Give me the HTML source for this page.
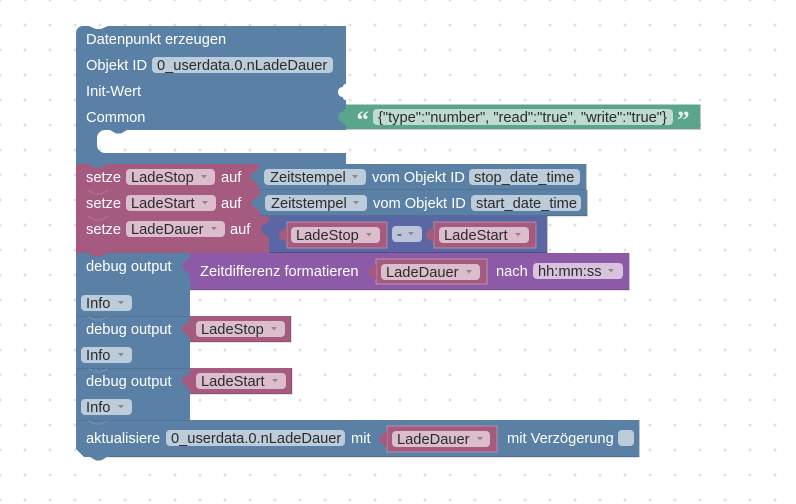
<!DOCTYPE html>
<html><head><meta charset="utf-8"><style>
html,body{margin:0;padding:0;background:#fff;width:796px;height:504px;overflow:hidden}
svg{display:block}
text{font-family:"Liberation Sans",Arial,sans-serif;font-size:14.67px;fill:#fff}
text.d{fill:#2b2b2b}
.a{fill:#777;opacity:.75}
.fb{fill:#bdccdb}.fp{fill:#dbbdcc}.fv{fill:#d8c3de}.fg{fill:#bddbd1}
.B{fill:#5b80a5}.P{fill:#a55b80}.V{fill:#8d5aa8}.G{fill:#5ba58c}.M{fill:#5b67a5}
.e{stroke:#000;stroke-opacity:.22;stroke-width:1;fill:none}
.h{stroke:#fff;stroke-opacity:.16;stroke-width:1;fill:none}
.q{font-family:"Liberation Serif",serif;font-size:25px;font-weight:bold;fill:#e6f2ee}
</style></head><body>
<svg width="796" height="504" viewBox="0 0 796 504" xmlns="http://www.w3.org/2000/svg">
<defs>
<pattern id="g" width="25" height="25" patternUnits="userSpaceOnUse" x="-12.5" y="-12.5">
<path d="M11 12.500h3M12.500 11v3" stroke="#d4d4d4" stroke-width="1" fill="none"/></pattern>
</defs>
<rect width="796" height="504" fill="#fff"/>
<rect width="796" height="504" fill="url(#g)"/>

<!-- hat block -->
<path class="B" d="M76 33a7 7 0 0 1 7-7h6l7 3h5l7-3H346V84c-2 0-3 1-3 3c-3 0-5 2-5 5s2 5 5 5c0 2 1 3 3 3V130H127l-6 3.500h-5l-6-3.500H105a8 8 0 0 0-8 8v7a8 8 0 0 0 8 8H346v11H76z"/>
<text x="86" y="44">Datenpunkt erzeugen</text>
<text x="86" y="70">Objekt ID</text>
<rect class="fb" x="152" y="57" width="181" height="16" rx="4"/>
<text class="d" x="157" y="70">0_userdata.0.nLadeDauer</text>
<text x="86" y="96">Init-Wert</text>
<text x="86" y="122">Common</text>

<!-- string -->
<rect class="G" x="346" y="104.500" width="354" height="24.500"/>
<path class="G" d="M346 109c-2 0-3 1-3 3c-3 0-5 2-5 5s2 5 5 5c0 2 1 3 3 3z"/>
<path class="e" d="M346 129.500H700.500V104.500"/>
<rect class="fg" x="373" y="109" width="300" height="16" rx="4"/>
<text class="d" x="378" y="122">{"type":"number", "read":"true", "write":"true"}</text>
<text class="q" x="356.500" y="128">“</text>
<text class="q" x="677" y="128">”</text>

<!-- setze 1 -->
<rect class="P" x="76" y="164" width="183" height="26"/>
<path class="B" d="M88 164l7 3.500h6l7-3.500z"/>
<rect class="B" x="259" y="164" width="327" height="26"/>
<path class="B" d="M259 169c-2 0-3 1-3 3c-3 0-5 2-5 5s2 5 5 5c0 2 1 3 3 3z"/>
<text x="86" y="182">setze</text>
<rect class="fp" x="126" y="169" width="89" height="16" rx="4"/>
<text class="d" x="131" y="182">LadeStop</text><path class="a" d="M201 175h6l-3 3.500z"/>
<text x="221" y="182">auf</text>
<rect class="fb" x="264" y="169" width="102" height="16" rx="4"/>
<text class="d" x="270" y="182">Zeitstempel</text><path class="a" d="M352 175h6l-3 3.500z"/>
<text x="372" y="182">vom Objekt ID</text>
<rect class="fb" x="469" y="169" width="111" height="16" rx="4"/>
<text class="d" x="474" y="182">stop_date_time</text>
<path class="e" d="M259 190H586.500V164"/>

<!-- setze 2 -->
<rect class="P" x="76" y="190" width="184" height="26"/>
<path class="h" d="M88 190.500l7 3.500h6l7-3.500"/>
<rect class="B" x="260" y="190" width="327" height="26"/>
<path class="B" d="M260 195c-2 0-3 1-3 3c-3 0-5 2-5 5s2 5 5 5c0 2 1 3 3 3z"/>
<text x="86" y="208">setze</text>
<rect class="fp" x="126" y="195" width="90" height="16" rx="4"/>
<text class="d" x="131" y="208">LadeStart</text><path class="a" d="M202 201h6l-3 3.500z"/>
<text x="221" y="208">auf</text>
<rect class="fb" x="265" y="195" width="102" height="16" rx="4"/>
<text class="d" x="271" y="208">Zeitstempel</text><path class="a" d="M353 201h6l-3 3.500z"/>
<text x="373" y="208">vom Objekt ID</text>
<rect class="fb" x="471" y="195" width="110" height="16" rx="4"/>
<text class="d" x="476" y="208">start_date_time</text>
<path class="e" d="M260 216H587.500V190"/>

<!-- setze 3 -->
<rect class="P" x="76" y="216" width="193" height="37"/>
<path class="h" d="M88 216.500l7 3.500h6l7-3.500"/>
<rect class="M" x="269" y="216" width="278" height="37"/>
<path class="M" d="M269 221c-2 0-3 1-3 3c-3 0-5 2-5 5s2 5 5 5c0 2 1 3 3 3z"/>
<text x="86" y="234">setze</text>
<rect class="fp" x="126" y="221" width="99" height="16" rx="4"/>
<text class="d" x="131" y="234">LadeDauer</text><path class="a" d="M211 227h6l-3 3.500z"/>
<text x="230" y="234">auf</text>
<!-- inner LadeStop -->
<rect class="P" x="287" y="222" width="100" height="26" stroke="#c9a0b5" stroke-width=".7"/>
<path class="P" d="M287 227c-2 0-3 1-3 3c-3 0-5 2-5 5s2 5 5 5c0 2 1 3 3 3z"/>
<rect class="fp" x="291" y="227" width="89" height="16" rx="4"/>
<text class="d" x="296" y="240">LadeStop</text><path class="a" d="M366 233h6l-3 3.500z"/>
<rect x="392" y="226" width="30" height="16" rx="4" fill="#bdc2db"/>
<text class="d" x="397" y="239">-</text><path class="a" d="M408 232h6l-3 3.500z"/>
<rect class="P" x="434" y="222" width="102" height="26" stroke="#c9a0b5" stroke-width=".7"/>
<path class="P" d="M434 227c-2 0-3 1-3 3c-3 0-5 2-5 5s2 5 5 5c0 2 1 3 3 3z"/>
<rect class="fp" x="439" y="227" width="90" height="16" rx="4"/>
<text class="d" x="444" y="240">LadeStart</text><path class="a" d="M515 233h6l-3 3.500z"/>
<path class="e" d="M269 252.500H547.500V216"/>

<!-- debug 1 -->
<rect class="B" x="76" y="253" width="114" height="63"/>
<path class="P" d="M88 253l7 3.500h6l7-3.500z"/>
<rect class="V" x="190" y="253" width="439" height="37"/>
<path class="V" d="M190 258c-2 0-3 1-3 3c-3 0-5 2-5 5s2 5 5 5c0 2 1 3 3 3z"/>
<path class="e" d="M190 290H629.500V253"/>
<text x="86" y="271">debug output</text>
<text x="200" y="276">Zeitdifferenz formatieren</text>
<rect class="P" x="376" y="259" width="111" height="25" stroke="#d0a8bc" stroke-width=".7"/>
<path class="P" d="M376 264c-2 0-3 1-3 3c-3 0-5 2-5 5s2 5 5 5c0 2 1 3 3 3z"/>
<rect class="fp" x="381" y="264" width="99" height="16" rx="4"/>
<text class="d" x="386" y="277">LadeDauer</text><path class="a" d="M466 270h6l-3 3.500z"/>
<text x="496" y="276">nach</text>
<rect class="fv" x="533" y="263" width="90" height="16" rx="4"/>
<text class="d" x="538" y="276">hh:mm:ss</text><path class="a" d="M608 269h6l-3 3.500z"/>
<rect class="fb" x="81" y="295" width="51" height="16" rx="4"/>
<text class="d" x="86" y="308">Info</text><path class="a" d="M118 301h6l-3 3.500z"/>

<!-- debug 2 -->
<rect class="B" x="76" y="316" width="114" height="52"/>
<path class="h" d="M88 316.500l7 3.500h6l7-3.500"/>
<path class="e" d="M76 316.500H190" style="stroke-opacity:.1"/>
<rect class="P" x="190" y="316" width="101" height="26"/>
<path class="P" d="M190 321c-2 0-3 1-3 3c-3 0-5 2-5 5s2 5 5 5c0 2 1 3 3 3z"/>
<path class="e" d="M190 342H291V316"/>
<text x="86" y="334">debug output</text>
<rect class="fp" x="196" y="321" width="89" height="16" rx="4"/>
<text class="d" x="201" y="334">LadeStop</text><path class="a" d="M271 327h6l-3 3.500z"/>
<rect class="fb" x="81" y="347" width="51" height="16" rx="4"/>
<text class="d" x="86" y="360">Info</text><path class="a" d="M118 353h6l-3 3.500z"/>

<!-- debug 3 -->
<rect class="B" x="76" y="368" width="114" height="52"/>
<path class="h" d="M88 368.500l7 3.500h6l7-3.500"/>
<path class="e" d="M76 368.500H190" style="stroke-opacity:.1"/>
<rect class="P" x="190" y="368" width="102" height="26"/>
<path class="P" d="M190 373c-2 0-3 1-3 3c-3 0-5 2-5 5s2 5 5 5c0 2 1 3 3 3z"/>
<path class="e" d="M190 394H292V368"/>
<text x="86" y="386">debug output</text>
<rect class="fp" x="196" y="373" width="90" height="16" rx="4"/>
<text class="d" x="201" y="386">LadeStart</text><path class="a" d="M272 379h6l-3 3.500z"/>
<rect class="fb" x="81" y="399" width="51" height="16" rx="4"/>
<text class="d" x="86" y="412">Info</text><path class="a" d="M118 405h6l-3 3.500z"/>

<!-- aktualisiere -->
<path class="B" d="M76 420H639V457H107l-6 3.500h-5l-6-3.500H84l-8-8z"/>
<path class="h" d="M88 420.500l7 3.500h6l7-3.500"/>
<path class="e" d="M76 420.500H190" style="stroke-opacity:.1"/>
<path class="e" d="M108 457H639.500V420"/>
<text x="86" y="443">aktualisiere</text>
<rect class="fb" x="166" y="430" width="179" height="16" rx="4"/>
<text class="d" x="171" y="443">0_userdata.0.nLadeDauer</text>
<text x="351" y="443">mit</text>
<rect class="P" x="387" y="426" width="110" height="26" stroke="#c9a0b5" stroke-width=".7"/>
<path class="P" d="M387 431c-2 0-3 1-3 3c-3 0-5 2-5 5s2 5 5 5c0 2 1 3 3 3z"/>
<rect class="fp" x="392" y="431" width="98" height="16" rx="4"/>
<text class="d" x="397" y="444">LadeDauer</text><path class="a" d="M477 437h6l-3 3.500z"/>
<text x="507" y="443">mit Verzögerung</text>
<rect class="fb" x="618" y="430" width="16" height="16" rx="4"/>
</svg>
</body></html>
